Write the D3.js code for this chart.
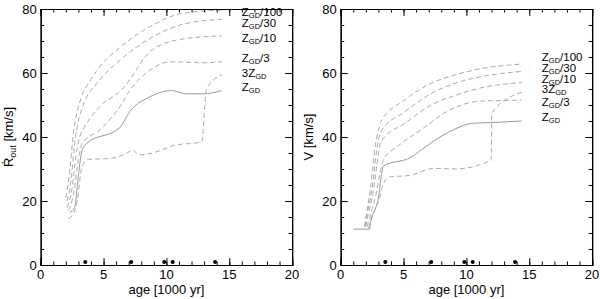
<!DOCTYPE html>
<html>
<head>
<meta charset="utf-8">
<script src="https://cdn.jsdelivr.net/npm/d3@7"></script>
<style>
  body { margin: 0; background: #fff; }
  svg { display: block; font-family: "Liberation Sans", Arial, sans-serif; }
</style>
</head>
<body>
<div id="chart"></div>
<script>
// series names (order of the labels on each panel)
const namesLeft = ["Z_GD/100", "Z_GD/30", "Z_GD/10", "Z_GD/3", "3Z_GD", "Z_GD"];
const namesRight = ["Z_GD/100", "Z_GD/30", "Z_GD/10", "3Z_GD", "Z_GD/3", "Z_GD"];

// left panel: R_out [km/s] vs age [1000 yr], pairs of [age, value]
const rZ100 = [[2.0,21],[2.3,29],[2.6,41],[2.9,48],[3.2,52],[4.0,58],[4.7,62],[6.3,68],[8.7,74.5],[11.1,78.5],[14.4,79.7]];
const rZ30  = [[2.1,20],[2.4,26],[2.7,38],[3.0,45],[3.3,49],[4.7,57.8],[6.3,64],[8.7,70.8],[11.1,75],[14.4,76.8]];
const rZ10  = [[2.1,18],[2.5,24],[2.8,34],[3.1,40],[3.4,42.5],[4.7,49.5],[6.5,55],[7.1,58],[8.7,66.7],[11.1,70.5],[14.4,71.6]];
const rZ3   = [[2.2,17],[2.6,22],[3.0,33],[3.3,38],[4.7,42.2],[6.3,49.5],[7.1,54.7],[8.4,60],[10.3,63.5],[12.9,63.2],[14.4,63.5]];
const r3Z   = [[2.2,14.5],[2.6,16],[2.9,20],[3.3,31],[3.8,33],[5.5,33.3],[7.1,35.5],[7.3,36],[7.8,34.4],[9.7,36],[10.5,37.3],[12.8,38.5],[13.2,55],[14.4,59.5]];
const rZ    = [[2.3,16.5],[2.7,18],[3.0,28],[3.3,36],[3.6,37.8],[6.3,43],[7.1,48],[8.7,52.6],[10.4,54.5],[11.6,53.5],[12.9,53.5],[14.4,54.5]];

// right panel: V [km/s] vs age
const vZ100 = [[1.9,12],[2.1,17],[2.4,25],[2.7,36],[3.0,42],[3.2,44.8],[5.1,51.6],[7.2,56.8],[9.1,59.4],[11.1,61.3],[14.4,62.8]];
const vZ30  = [[1.9,12],[2.1,16],[2.5,24],[2.8,34],[3.0,39],[3.2,41.7],[5.1,47.9],[7.2,53.6],[9.1,56.8],[11.1,58.8],[14.4,60.5]];
const vZ10  = [[2.0,12],[2.2,16],[2.6,23],[2.9,32],[3.2,38.5],[5.1,44.3],[7.2,50],[9.1,53],[11.1,55.3],[14.4,57]];
const v3Z   = [[2.2,11.5],[2.5,15],[2.8,18],[3.1,21],[3.4,25.5],[3.9,27.5],[5.5,28],[7.4,30.2],[9.1,30],[11.98,32.8],[12.02,47.5],[14.4,54]];
const vZ3   = [[2.1,12],[2.4,16],[2.8,22],[3.1,28],[3.4,33],[4.5,37],[6.3,42],[8.7,48.5],[11.1,51.2],[14.4,51.5]];
const vZ    = [[1.0,11.2],[2.3,11.2],[2.4,14],[2.7,17],[3.0,21],[3.2,27],[3.4,31],[5.5,33.5],[6.6,36.5],[7.9,40],[9.1,42.5],[10.5,44.3],[12,44.5],[14.4,45]];

// label anchor values (data units) for each series name
const labelAgeLeft = 16.0, labelValLeft = [77.7, 74.4, 69.8, 63.5, 58.8, 54.5];
const labelAgeRight = 16.0, labelValRight = [63.9, 60.2, 57.0, 53.7, 49.7, 45.1];

// observed ages (dots near zero)
const dotAges = [3.55, 7.2, 9.83, 10.5, 13.87];
const dotVal = 0.9;

const xTicks = [0, 5, 10, 15, 20];
const yTicks = [0, 20, 40, 60, 80];

const W = 600, H = 299;
const svg = d3.select("#chart").append("svg").attr("width", W).attr("height", H);

function drawPanel(left, yLabel, yLabelSub, series, names, labelAge, labelVals) {
    const x = d3.scaleLinear().domain([0, 20]).range([left, left + 251.4]);
    const y = d3.scaleLinear().domain([0, 80]).range([265, 9]);
    const g = svg.append("g");

    // curves
    const line = d3.line().x(d => x(d[0])).y(d => y(d[1])).curve(d3.curveMonotoneX);
    series.forEach((s, i) => {
        const solid = names[i] === "Z_GD";
        g.append("path")
            .attr("d", line(s))
            .attr("fill", "none")
            .attr("stroke", solid ? "#9a9a9a" : "#ababab")
            .attr("stroke-width", 1)
            .attr("stroke-dasharray", solid ? null : "5,3");
    });

    // dots
    g.selectAll(".dot").data(dotAges).enter().append("circle")
        .attr("cx", d => x(d)).attr("cy", y(dotVal)).attr("r", 2)
        .attr("fill", "#000");

    // axes with inward ticks, IDL-like box
    const minorX = d3.range(0, 21, 1), minorY = d3.range(0, 81, 5);
    g.append("g").attr("transform", `translate(0,${y(0)})`).call(d3.axisBottom(x).tickValues(minorX).tickSize(-3.5).tickFormat(""));
    g.append("g").attr("transform", `translate(0,${y(0)})`).call(d3.axisBottom(x).tickValues(xTicks).tickSize(-7).tickFormat(""));
    g.append("g").attr("transform", `translate(0,${y(80)})`).call(d3.axisTop(x).tickValues(minorX).tickSize(-3.5).tickFormat(""));
    g.append("g").attr("transform", `translate(0,${y(80)})`).call(d3.axisTop(x).tickValues(xTicks).tickSize(-7).tickFormat(""));
    g.append("g").attr("transform", `translate(${x(0)},0)`).call(d3.axisLeft(y).tickValues(minorY).tickSize(-3.5).tickFormat(""));
    g.append("g").attr("transform", `translate(${x(0)},0)`).call(d3.axisLeft(y).tickValues(yTicks).tickSize(-7).tickFormat(""));
    g.append("g").attr("transform", `translate(${x(20)},0)`).call(d3.axisRight(y).tickValues(minorY).tickSize(-3.5).tickFormat(""));
    g.append("g").attr("transform", `translate(${x(20)},0)`).call(d3.axisRight(y).tickValues(yTicks).tickSize(-7).tickFormat(""));
    g.selectAll(".domain").attr("stroke", "#000").attr("stroke-width", 1.2);
    g.selectAll(".tick line").attr("stroke", "#000").attr("stroke-width", 1);

    // tick labels
    g.selectAll(".xl").data(xTicks).enter().append("text")
        .attr("x", d => x(d)).attr("y", 279)
        .attr("text-anchor", "middle").attr("font-size", 13).text(d => d);
    g.selectAll(".yl").data(yTicks).enter().append("text")
        .attr("x", x(0) - 4).attr("y", d => y(d) + 4.5)
        .attr("text-anchor", "end").attr("font-size", 13).text(d => d);

    // axis titles
    g.append("text").attr("x", (x(0) + x(20)) / 2).attr("y", 294)
        .attr("text-anchor", "middle").attr("font-size", 13).text("age [1000 yr]");
    const yt = g.append("text")
        .attr("transform", `translate(${left - 28},137) rotate(-90)`)
        .attr("text-anchor", "middle").attr("font-size", 13);
    yt.append("tspan").text(yLabel);
    if (yLabelSub) {
        yt.append("tspan").attr("font-size", 9).attr("dy", 3).text(yLabelSub);
        yt.append("tspan").attr("dy", -3).text(" [km/s]");
    } else {
        yt.append("tspan").text(" [km/s]");
    }

    // series labels
    names.forEach((n, i) => {
        const t = g.append("text").attr("x", x(labelAge)).attr("y", y(labelVals[i]))
            .attr("font-size", 11.5);
        if (n.startsWith("3")) {
            t.append("tspan").text("3Z");
            t.append("tspan").attr("font-size", 7.5).attr("dy", 2).text("GD");
        } else {
            t.append("tspan").text("Z");
            t.append("tspan").attr("font-size", 7.5).attr("dy", 2).text("GD");
            const rest = n.slice(4);
            if (rest) t.append("tspan").attr("dy", -2).text(rest);
        }
    });
}

drawPanel(40.7, "R\u0307", "out", [rZ100, rZ30, rZ10, rZ3, r3Z, rZ], namesLeft, labelAgeLeft, labelValLeft);
drawPanel(340.7, "V", null, [vZ100, vZ30, vZ10, v3Z, vZ3, vZ], namesRight, labelAgeRight, labelValRight);
</script>
</body>
</html>
